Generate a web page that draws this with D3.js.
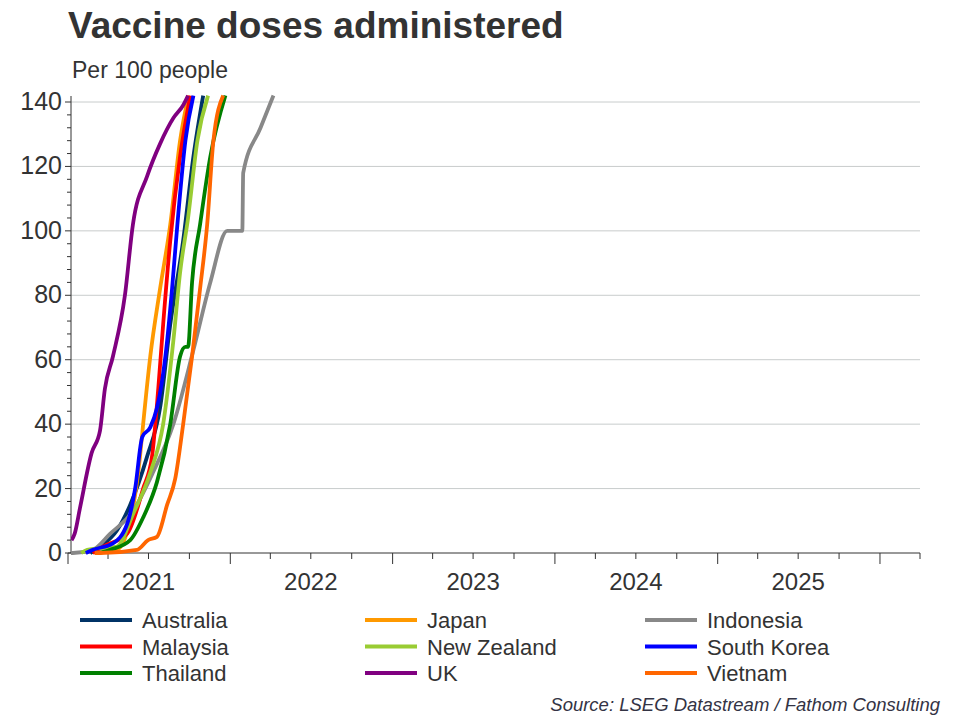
<!DOCTYPE html>
<html><head><meta charset="utf-8">
<script src="https://cdn.jsdelivr.net/npm/d3@7"></script>
<style>body{margin:0;background:#fff;font-family:"Liberation Sans",Arial,sans-serif}</style>
</head><body>
<script>
// days since 2021-01-01, doses per 100 people
var countries = ["Australia","Japan","Indonesia","Malaysia","New Zealand","South Korea","Thailand","UK","Vietnam"];
var colors = ["#003366","#ff9900","#888888","#ff0000","#99cc33","#0000ff","#008000","#800080","#ff6600"];
var australia = [[50,0],[72,2],[110,7],[140,15],[178,30],[207,45],[230,71],[259,97],[282,123],[304,142]];
var japan = [[60,0],[110,1],[146,14],[162,30],[169,40],[185,61],[207,82],[230,102],[252,128],[271,142]];
var indonesia = [[2,0],[11,0],[56,1],[95,6],[146,13],[191,25],[237,40],[282,63],[320,84],[358,100],[392,100],[394,118],[433,132],[462,142]];
var malaysia = [[55,0],[79,2],[133,6],[169,20],[189,30],[203,51],[214,71],[230,97],[252,123],[275,142]];
var newZealand = [[30,0],[43,1],[110,2],[146,12],[185,25],[214,40],[237,66],[252,87],[270,104],[291,128],[315,142]];
var southKorea = [[40,0],[56,1],[101,3],[133,9],[151,20],[167,36],[185,39],[200,45],[219,61],[234,82],[246,102],[264,128],[282,142]];
var thailand = [[70,0],[95,1],[140,4],[169,11],[200,22],[230,40],[252,61],[264,64],[270,64],[279,84],[297,102],[320,123],[354,142]];
var uk = [[8,4],[15,6],[27,14],[53,31],[72,38],[83,51],[101,61],[128,80],[146,102],[178,117],[207,127],[237,135],[259,139],[270,142]];
var vietnam = [[60,0],[72,0],[155,1],[180,4],[200,5],[223,15],[241,23],[259,40],[279,61],[297,82],[313,102],[327,128],[349,142]];
var series = [australia,japan,indonesia,malaysia,newZealand,southKorea,thailand,uk,vietnam];
var yTicks = [0,20,40,60,80,100,120,140];
var years = ["2021","2022","2023","2024","2025"];

var svg = d3.select("body").append("svg").attr("width",960).attr("height",720);
var start = new Date(2021,0,1);
function day(d){ return d3.timeDay.offset(start,d); }

var x = d3.scaleTime().domain([new Date(2021,0,1), new Date(2026,3,1)]).range([68,920]);
var y = d3.scaleLinear().domain([0,140]).range([553,102]);

svg.append("text").attr("x",68).attr("y",38).attr("font-size",37).attr("font-weight","bold").attr("fill","#333").text("Vaccine doses administered");
svg.append("text").attr("x",72).attr("y",78).attr("font-size",23).attr("fill","#333").text("Per 100 people");

// grid
svg.selectAll(".grid").data(yTicks.slice(1)).enter().append("line")
  .attr("x1",71).attr("x2",920).attr("y1",function(d){return y(d);}).attr("y2",function(d){return y(d);})
  .attr("stroke","#c8cccc").attr("stroke-width",1);

// y axis
var yAxis = svg.append("g").attr("transform","translate(71,0)");
yAxis.append("line").attr("x1",0).attr("x2",0).attr("y1",96).attr("y2",553).attr("stroke","#333");
yAxis.selectAll(".mt").data(d3.range(0,141,4)).enter().append("line")
  .attr("x1",function(d){return d%20==0?-6:-4;}).attr("x2",0).attr("y1",function(d){return y(d);}).attr("y2",function(d){return y(d);}).attr("stroke","#333");
yAxis.selectAll("text").data(yTicks).enter().append("text")
  .attr("x",-9).attr("y",function(d){return y(d)+8;}).attr("text-anchor","end").attr("font-size",25).attr("fill","#333").text(function(d){return d;});

// x axis
var xa = svg.append("g");
xa.append("line").attr("x1",68).attr("x2",920).attr("y1",553).attr("y2",553).attr("stroke","#333");
var quarters = d3.timeMonth.every(3).range(new Date(2021,0,1), new Date(2026,3,2));
xa.selectAll(".qt").data(quarters).enter().append("line")
  .attr("x1",function(d){return x(d);}).attr("x2",function(d){return x(d);})
  .attr("y1",553).attr("y2",function(d){return d.getMonth()==0?564:559;}).attr("stroke","#333");
xa.selectAll("text").data(years).enter().append("text")
  .attr("x",function(d){return x(new Date(+d,6,1));}).attr("y",590).attr("text-anchor","middle")
  .attr("font-size",24).attr("fill","#333").text(function(d){return d;});

// lines
svg.append("clipPath").attr("id","clip").append("rect").attr("x",71).attr("y",94).attr("width",850).attr("height",462);
var line = d3.line().curve(d3.curveMonotoneX).x(function(d){return x(day(d[0]));}).y(function(d){return y(d[1]);});
svg.append("g").attr("clip-path","url(#clip)").selectAll("path").data(series).enter().append("path")
  .attr("d",line).attr("fill","none").attr("stroke",function(d,i){return colors[i];})
  .attr("stroke-width",3.8).attr("stroke-linejoin","round");

// legend
var lg = svg.selectAll(".lg").data(countries).enter().append("g")
  .attr("transform",function(d,i){return "translate("+[80,365,645][i%3]+","+(620+Math.floor(i/3)*26.5)+")";});
lg.append("line").attr("x1",0).attr("x2",52).attr("stroke",function(d,i){return colors[i];}).attr("stroke-width",3.8);
lg.append("text").attr("x",62).attr("y",8).attr("font-size",22).attr("fill","#333").text(function(d){return d;});

svg.append("text").attr("x",940).attr("y",711).attr("text-anchor","end").attr("font-size",18.5).attr("font-style","italic").attr("fill","#334").text("Source: LSEG Datastream / Fathom Consulting");
</script>
</body></html>
